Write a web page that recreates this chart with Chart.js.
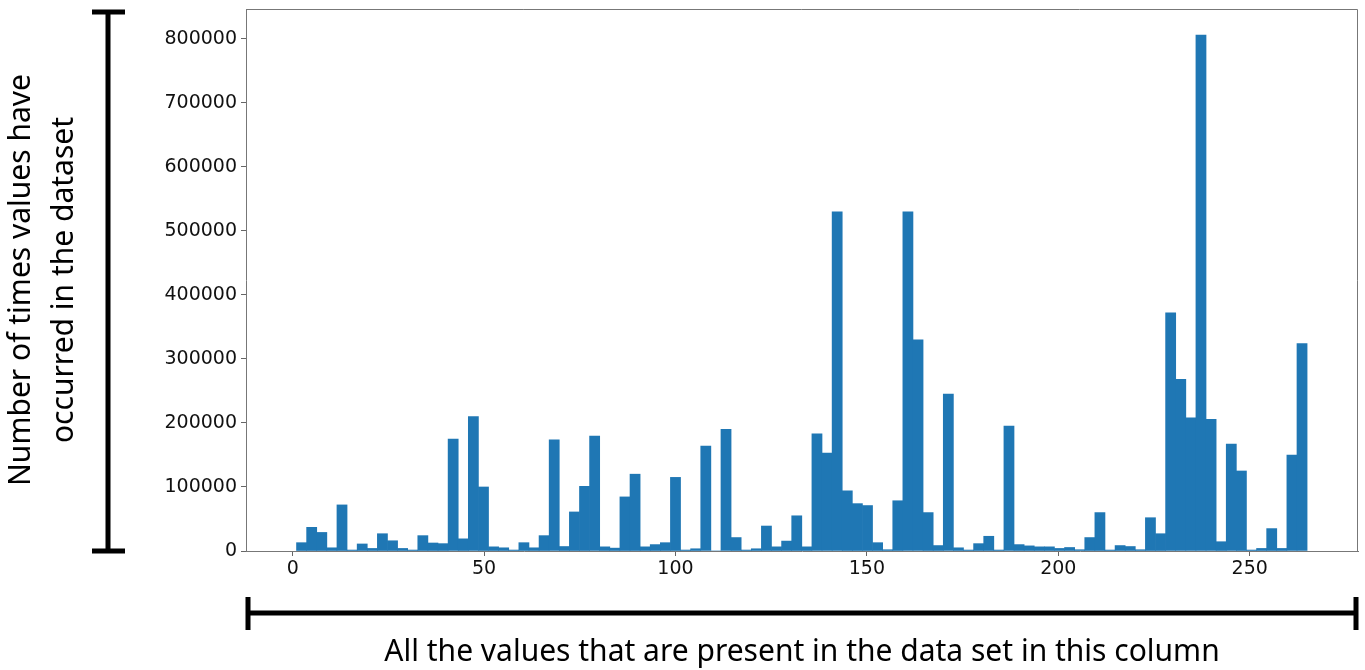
<!DOCTYPE html>
<html>
<head>
<meta charset="utf-8">
<script src="https://cdn.jsdelivr.net/npm/chart.js@4"></script>
<style>
  html, body { margin: 0; padding: 0; background: #fff; }
  #wrap { width: 1365px; height: 670px; position: relative; }
</style>
</head>
<body>
<div id="wrap"><canvas id="histChart"></canvas></div>
<script>
// histogram: 100 bins starting at 1, each 2.64 wide
const binStart = 1;
const binWidth = 2.64;

// counts per bin
const counts = [
    13000, 37000, 29000, 5000, 72000, 1500, 11000, 4000, 27000, 16000,
    4000, 1500, 24000, 12500, 11500, 175000, 19000, 210000, 100000, 6500,
    5000, 1500, 13000, 5000, 24000, 173500, 7000, 61000, 101000, 179500,
    6500, 4500, 84500, 120000, 6500, 10000, 13000, 115000, 1500, 3500,
    164000, 0, 190000, 21000, 1500, 3500, 39000, 6500, 15500, 55000,
    6500, 183000, 153000, 530000, 94000, 74000, 71000, 13000, 2000, 78500,
    530000, 330000, 60000, 8500, 245000, 5000, 1500, 11500, 23000, 1500,
    195000, 10000, 8000, 6500, 6500, 4000, 5500, 2000, 21000, 60000,
    1500, 8500, 7000, 2000, 52000, 27000, 372000, 268000, 208000, 806000,
    205500, 14500, 167000, 125000, 1500, 4000, 35000, 4000, 150000, 324000
];

const xTicks = [0, 50, 100, 150, 200, 250];
const yTicks = [0, 100000, 200000, 300000, 400000, 500000, 600000, 700000, 800000];

const yTitle = ['Number of times values have', 'occurred in the dataset'];
const xTitle = 'All the values that are present in the data set in this column';

document.addEventListener('DOMContentLoaded', () => {
    const canvas = document.getElementById('histChart');
    if (!canvas) {
        console.error("Canvas not found");
        return;
    }

    const points = counts.map((c, i) => ({
        x: binStart + (i + 0.5) * binWidth,
        y: c
    }));

    // top/right spines plus the two black brackets
    const framePlugin = {
        id: 'frame',
        afterDraw(chart) {
            const { ctx, chartArea: a } = chart;
            ctx.save();
            ctx.strokeStyle = '#777';
            ctx.lineWidth = 1;
            ctx.beginPath();
            ctx.moveTo(a.left, a.top + 0.5);
            ctx.lineTo(a.right - 0.5, a.top + 0.5);
            ctx.lineTo(a.right - 0.5, a.bottom);
            ctx.stroke();

            ctx.strokeStyle = '#000';
            ctx.lineWidth = 5;
            ctx.lineCap = 'butt';
            // vertical bracket
            ctx.beginPath();
            ctx.moveTo(108, 12);
            ctx.lineTo(108, 551);
            ctx.moveTo(92, 12);
            ctx.lineTo(125, 12);
            ctx.moveTo(92, 551);
            ctx.lineTo(125, 551);
            ctx.stroke();
            // horizontal bracket
            ctx.beginPath();
            ctx.moveTo(248, 613);
            ctx.lineTo(1356, 613);
            ctx.moveTo(248, 597);
            ctx.lineTo(248, 630);
            ctx.moveTo(1356, 597);
            ctx.lineTo(1356, 630);
            ctx.stroke();
            ctx.restore();
        }
    };

    const tickFont = { family: 'DejaVu Sans', size: 19 };

    new Chart(canvas.getContext('2d'), {
        type: 'bar',
        data: {
            datasets: [{
                data: points,
                backgroundColor: '#1f77b4',
                borderWidth: 0,
                barPercentage: 1,
                categoryPercentage: 1
            }]
        },
        options: {
            responsive: true,
            maintainAspectRatio: false,
            animation: false,
            layout: {
                padding: { top: 9, right: 7, left: 0, bottom: 0 }
            },
            scales: {
                x: {
                    type: 'linear',
                    offset: false,
                    min: -12.2,
                    max: 278.3,
                    afterBuildTicks: scale => {
                        scale.ticks = xTicks.map(v => ({ value: v }));
                    },
                    afterFit: scale => {
                        scale.height = 119;
                        scale.paddingLeft = 0;
                        scale.paddingRight = 0;
                    },
                    ticks: {
                        font: tickFont,
                        color: '#111',
                        padding: 2,
                        maxRotation: 0
                    },
                    grid: {
                        offset: false,
                        drawOnChartArea: false,
                        tickLength: 5,
                        tickColor: '#666'
                    },
                    border: { color: '#777', width: 1 },
                    title: {
                        display: true,
                        text: xTitle,
                        color: '#000',
                        font: { family: 'Noto Sans', size: 30, lineHeight: 1.2 },
                        padding: { top: 0, bottom: 0 }
                    }
                },
                y: {
                    min: 0,
                    max: 846700,
                    afterBuildTicks: scale => {
                        scale.ticks = yTicks.map(v => ({ value: v }));
                    },
                    afterFit: scale => {
                        scale.width = 246;
                        scale.paddingTop = 0;
                        scale.paddingBottom = 0;
                    },
                    ticks: {
                        font: tickFont,
                        color: '#111',
                        padding: 4,
                        callback: v => String(v)
                    },
                    grid: {
                        drawOnChartArea: false,
                        tickLength: 5,
                        tickColor: '#666'
                    },
                    border: { color: '#777', width: 1 },
                    title: {
                        display: true,
                        text: yTitle,
                        color: '#000',
                        font: { family: 'Noto Sans', size: 30, lineHeight: 1.433 },
                        padding: { top: 0, bottom: 0 }
                    }
                }
            },
            plugins: {
                legend: { display: false },
                tooltip: { enabled: false }
            }
        },
        plugins: [framePlugin]
    });
});
</script>
</body>
</html>
